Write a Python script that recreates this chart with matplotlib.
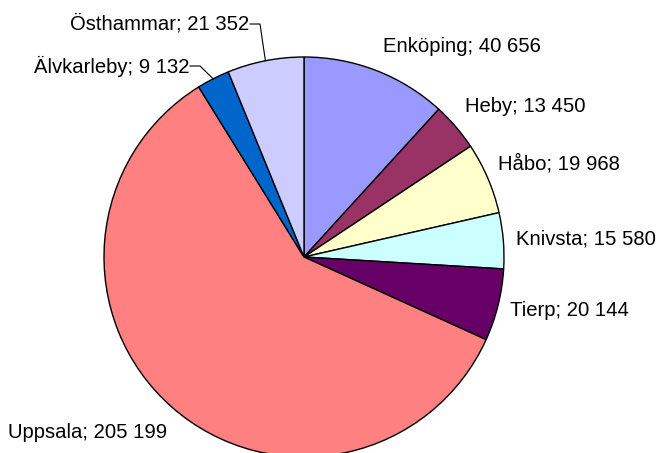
import numpy as np
import matplotlib
matplotlib.use('Agg')
from matplotlib import pyplot as plt

# kommuner i Uppsala län, invånare
kommuner = ['Enköping', 'Heby', 'Håbo', 'Knivsta', 'Tierp', 'Uppsala', 'Älvkarleby', 'Östhammar']
invanare = [40656, 13450, 19968, 15580, 20144, 205199, 9132, 21352]
farger = ['#9999FF', '#993366', '#FFFFCC', '#CCFFFF', '#660066', '#FF8080', '#0066CC', '#CCCCFF']

W, H = 658, 453
cx, cy, R = 304, H - 257, 200

# etikettplacering i pixlar (x, y från toppen, ha)
etikett_pos = {
    'Enköping': (383, 46, 'left'),
    'Heby': (465, 107, 'left'),
    'Håbo': (498, 164, 'left'),
    'Knivsta': (516, 239, 'left'),
    'Tierp': (510, 310, 'left'),
    'Uppsala': (8, 432, 'left'),
    'Älvkarleby': (189, 66, 'right'),
    'Östhammar': (249, 24, 'right'),
}
ledare = ['Älvkarleby', 'Östhammar']

plt.rcParams['font.family'] = ['Liberation Sans', 'DejaVu Sans']

fig = plt.figure(figsize=(W / 100, H / 100), dpi=100)
ax = fig.add_axes([0, 0, 1, 1])

wedges, _ = ax.pie(invanare, colors=farger, startangle=90, counterclock=False,
                   center=(cx, cy), radius=R,
                   wedgeprops=dict(edgecolor='black', linewidth=1.0))

def fmt(v):
    return '{:,}'.format(v).replace(',', ' ')

for w, namn, v in zip(wedges, kommuner, invanare):
    x, y, ha = etikett_pos[namn]
    ax.text(x, H - y, '%s; %s' % (namn, fmt(v)), ha=ha, va='center', fontsize=14.6, color='black')
    if namn in ledare:
        mid = np.deg2rad((w.theta1 + w.theta2) / 2)
        ex, ey = cx + R * np.cos(mid), cy + R * np.sin(mid)
        x0 = x + 1
        x1 = x0 + 10
        ax.plot([x0, x1, ex], [H - y, H - y, ey], color='black', linewidth=0.8)

ax.set_xlim(0, W)
ax.set_ylim(0, H)
ax.set_aspect('equal')
ax.axis('off')

plt.savefig('out.png', dpi=100)
